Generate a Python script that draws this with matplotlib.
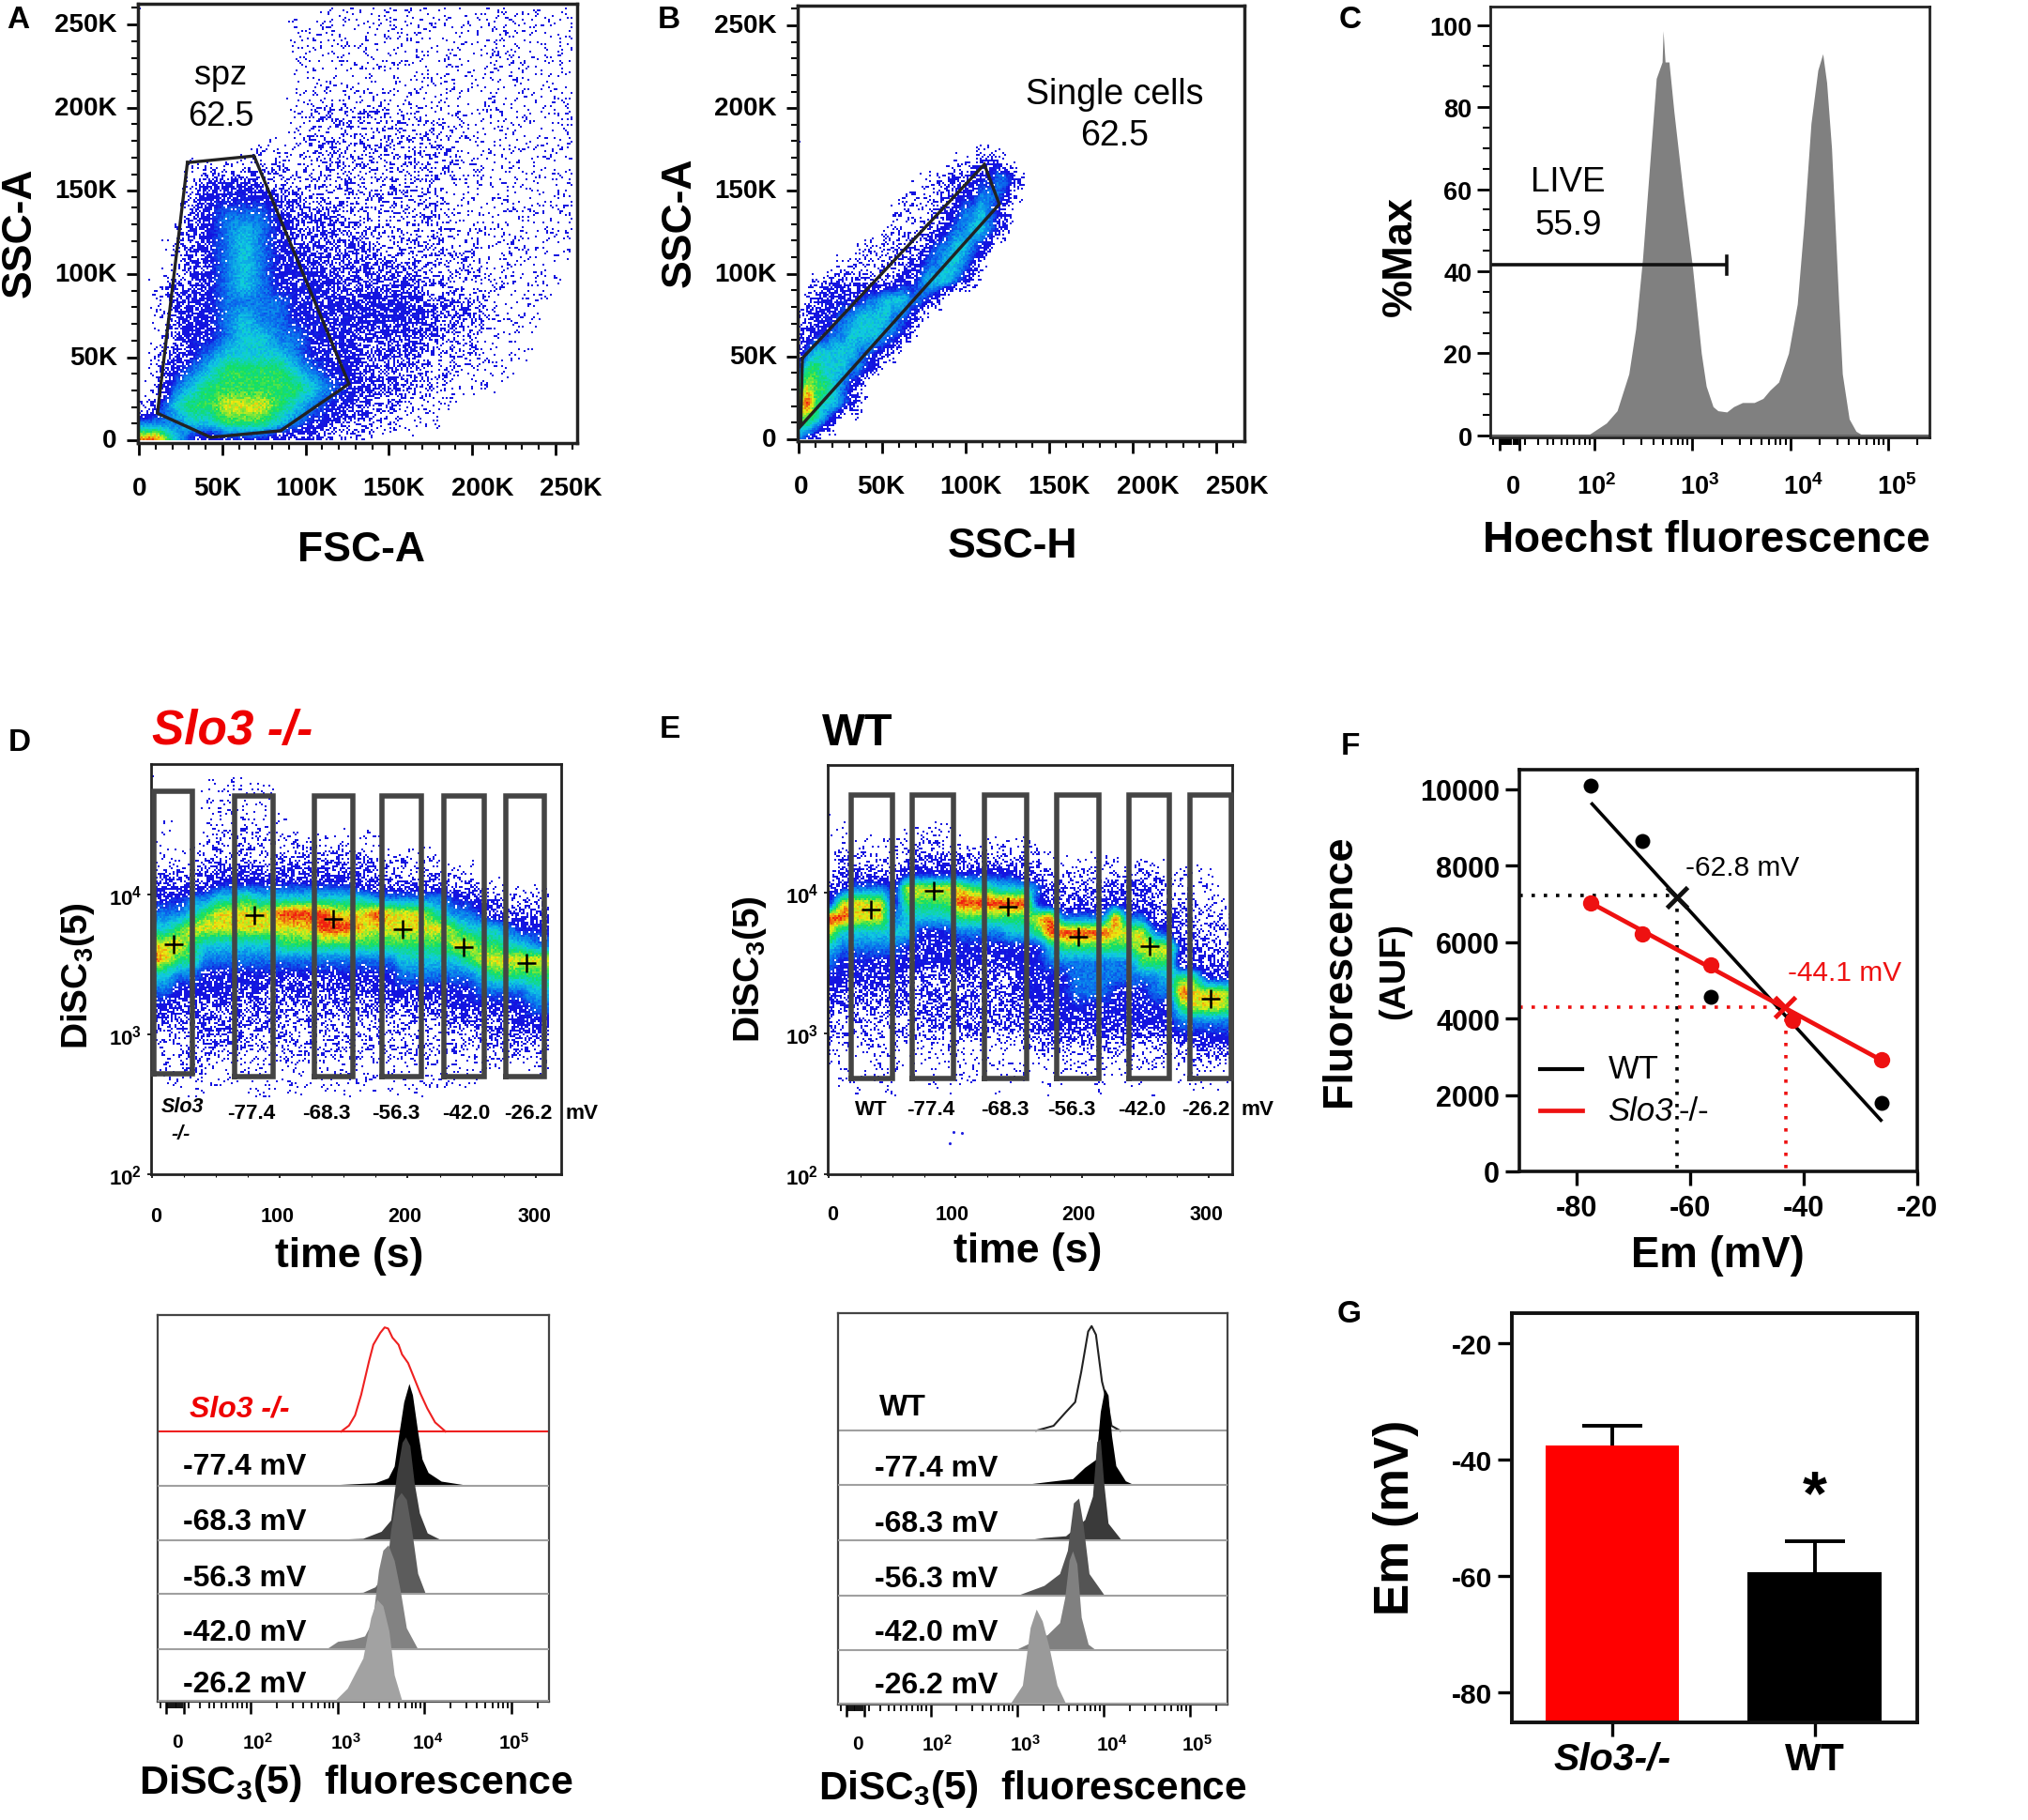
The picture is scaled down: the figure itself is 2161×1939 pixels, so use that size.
import numpy as np
import matplotlib
matplotlib.use("Agg")
import matplotlib.pyplot as plt
from matplotlib.colors import LinearSegmentedColormap
from matplotlib.transforms import Affine2D

plt.rcParams['font.family'] = ['Liberation Sans', 'DejaVu Sans']
plt.rcParams['mathtext.fontset'] = 'custom'
plt.rcParams['mathtext.bf'] = 'Liberation Sans:bold'
plt.rcParams['mathtext.rm'] = 'Liberation Sans'
plt.rcParams['mathtext.it'] = 'Liberation Sans:italic'

W, H = 2161, 1940

# Density grids, level 0 (no events) to 9 (hottest)
# Panel A: FSC-A 0-260K in 10K columns, SSC-A 260K down to 0 in 10K rows
density_a = [
    "00000000000111111111111111",
    "00000000011111111111111111",
    "00000000011111111111111111",
    "00000000011111111111111111",
    "00000000011111111111111111",
    "00000000011111111111111111",
    "00000000012222222111111111",
    "00000000012222222211111111",
    "00000001112222222221111111",
    "00011112222222222221111111",
    "00023443222222222211111111",
    "00034444332222222211111111",
    "00034555433322222221111111",
    "00134565433332222221111111",
    "00234565443333222222111111",
    "00234565444333333222111110",
    "01334565444433333222111110",
    "01344555544444444333211100",
    "01344565544444444333211100",
    "01344566554443433322111000",
    "02345666654443333222111000",
    "02456777765443332221110000",
    "02567777776544332211100000",
    "14677888765443221110000000",
    "55566777654433221100000000",
    "99643444333221000000000000",
]

# Panel B: SSC-H 0-135K in 5K columns, SSC-A 180K down to 0 in 10K rows
density_b = [
    "000000000000000000000000000",
    "000000000000000000112334100",
    "000000000000001122333445543",
    "000000000000122223344555421",
    "000000000001222233455654310",
    "000000000012222334556654300",
    "000000012222233455665430000",
    "000012222222334556654300000",
    "012333333333445666543000000",
    "033444445566655430000000000",
    "134445566665543000000000000",
    "334455666655430000000000000",
    "356666655443000000000000000",
    "577666554300000000000000000",
    "787765430000000000000000000",
    "897665430000000000000000000",
    "776530000000000000000000000",
    "543000000000000000000000000",
]

# Panel D: time 0-310 s in 10 s columns, log10 signal 4.8 down to 2.6 in 0.1 rows
density_d = [
    "0000011100000000000000000000000",
    "0000111111000000000000000000000",
    "0000111111000000000000000000000",
    "0100111111100000000000000000000",
    "1100122222111111110000000000000",
    "1111222222222222211111000000000",
    "2222333333333333332222211000000",
    "3333344444444444333333322110000",
    "4445566766666666655555544332222",
    "5556788888999988898887655433333",
    "6678888888888999888888876665444",
    "8887666666777777777777788776655",
    "9877555555555555555666667888888",
    "6655444444444444444555555677777",
    "5544444443333333344444444555566",
    "4433333333333333333333344444455",
    "3333333333222222222222233333444",
    "2223333322222222222222222233333",
    "1112222222222222222222222222222",
    "1112211111111111111111111111111",
    "0111111111111111111111111100000",
    "0001110011110111101110000000000",
]

# Panel E: time 0-320 s in 10 s columns, log10 signal 4.5 down to 2.6 in 0.1 rows
density_e = [
    "00000000000000000000000000000000",
    "01000011110000000000000000000000",
    "11111112211111111000000000000000",
    "12222133333222222111111111000000",
    "23333344444444433222222222111100",
    "34555488888776665333333333221111",
    "48888477779999994333334333222111",
    "99888566667777778955559553332222",
    "86666664445555667999998885433222",
    "65555544444444444677777788843322",
    "54444444444444444555555577733333",
    "44444433333333344445555555677444",
    "43333333333333344445554445598887",
    "33333333333333334444444444478887",
    "22222223333333333444444444455555",
    "22222222222222223333333333344444",
    "11111111111111112222222222222333",
    "11111111111111111111111111111111",
    "01101101101100110110110110011011",
    "00100100010001000100010001000100",
]

# Stray events below the main cloud of panel E
e_stray_time = [98, 105, 95]
e_stray_log = [2.30, 2.29, 2.22]

# Gates
gate_a_fsc = [29, 69, 126, 85, 43, 11, 29]
gate_a_ssc = [167, 171, 34, 5.8, 1.8, 16.3, 167]
gate_b_ssch = [2, 111, 120, 1, 2]
gate_b_ssca = [49, 166, 142, 8, 49]

k_ticks = [0, 50, 100, 150, 200, 250]
k_minor = [10, 20, 30, 40, 60, 70, 80, 90, 110, 120, 130, 140, 160, 170, 180, 190, 210, 220, 230, 240, 260]
k_labels = ['0', '50K', '100K', '150K', '200K', '250K']
a_label_x = [0, 47, 100.5, 153, 206, 259]
b_label_x = [1.3, 49, 103, 156, 209, 262.5]

# Panel C histogram, x is log10 fluorescence on the display axis
hoechst_log = [1.93, 2.12, 2.23, 2.35, 2.42, 2.49, 2.56, 2.63, 2.69, 2.70, 2.72, 2.76, 2.81, 2.91,
               3.00, 3.09, 3.14, 3.21, 3.26, 3.35, 3.42, 3.51, 3.63, 3.72, 3.79, 3.88, 3.98, 4.07,
               4.14, 4.21, 4.28, 4.33, 4.37, 4.42, 4.49, 4.53, 4.60, 4.67, 4.74]
hoechst_pct = [0, 3, 6, 15, 26, 43, 65, 87, 91, 98.6, 91, 91, 79, 58,
               41, 20, 12, 7, 6, 5.7, 7, 8, 8, 9, 11, 13, 20, 32,
               52, 76, 89, 93, 86, 70, 34, 15, 4, 1, 0]
pct_ticks = [0, 20, 40, 60, 80, 100]
pct_minor = [5, 10, 15, 25, 30, 35, 45, 50, 55, 65, 70, 75, 85, 90, 95]
live_gate_end = 3.35
live_gate_pct = 41.5

# Biexponential axis ticks, shared by the three fluorescence histograms
decades = [2, 3, 4, 5]
decade_labels = [r'$\mathbf{10^{2}}$', r'$\mathbf{10^{3}}$', r'$\mathbf{10^{4}}$', r'$\mathbf{10^{5}}$']
biex_minor = [0.96, 1.03, 1.05, 1.07, 1.09, 1.11, 1.13, 1.15, 1.17, 1.19, 1.21, 1.23, 1.29,
              1.42, 1.52, 1.58, 1.66, 1.72, 1.79, 1.85, 1.9, 1.95,
              2.3, 2.48, 2.6, 2.7, 2.78, 2.85, 2.9, 2.95,
              3.3, 3.48, 3.6, 3.7, 3.78, 3.85, 3.9, 3.95,
              4.3, 4.48, 4.6, 4.7, 4.78, 4.85, 4.9, 4.95, 5.3]
biex_major_left = [1.03, 1.23]
c_label_pos = [1.17, 2.02, 3.07, 4.13, 5.09]
d_label_pos = [1.16, 2.08, 3.09, 4.04, 5.03]
e_label_pos = [1.16, 2.07, 3.09, 4.09, 5.08]

# Panels D and E gates and medians
d_gate_start = [1.9, 64.4, 127, 180, 228.6, 277]
d_gate_end = [31.7, 94.6, 157, 211, 260, 307]
d_gate_top = [4.745, 4.707, 4.707, 4.707, 4.707, 4.707]
d_gate_bottom = [2.718, 2.70, 2.70, 2.70, 2.70, 2.70]
d_median_time = [16.8, 80.3, 142, 196, 244, 293]
d_median_log = [3.644, 3.855, 3.827, 3.753, 3.625, 3.512]

e_gate_start = [17.2, 66, 123, 180, 236.6, 285.5]
e_gate_end = [50.2, 98.7, 156, 213.6, 269, 318]
e_gate_top = [4.687] * 6
e_gate_bottom = [2.682] * 6
e_median_time = [33, 82.5, 141, 197, 253, 301.6]
e_median_log = [3.875, 4.01, 3.90, 3.686, 3.618, 3.247]

time_ticks = [0, 100, 200, 300]
time_minor = [25, 50, 75, 125, 150, 175, 225, 250, 275]
d_time_label_x = [3.5, 98, 198, 299]
e_time_label_x = [3, 97, 197, 298]
log_ticks = [2, 3, 4]
log_labels = [r'$\mathbf{10^{2}}$', r'$\mathbf{10^{3}}$', r'$\mathbf{10^{4}}$']
voltages = ['-77.4', '-68.3', '-56.3', '-42.0', '-26.2']
voltage_labels = [v + ' mV' for v in voltages]

# Stacked histograms under D (Slo3 -/-), top to bottom
d_hist_base = [5.0, 4.0, 2.99, 1.99, 0.97, 0]
d_hist_colors = ['none', '#000000', '#3d3d3d', '#5c5c5c', '#828282', '#a2a2a2']
d_x0 = [3.04, 3.13, 3.20, 3.27, 3.36, 3.41, 3.49, 3.54, 3.58, 3.63, 3.70, 3.74, 3.81, 3.88, 3.95, 4.03, 4.12, 4.24]
d_y0 = [0, .11, .30, .68, 1.3, 1.61, 1.83, 1.93, 1.91, 1.74, 1.61, 1.43, 1.27, .99, .71, .43, .17, 0]
d_x1 = [2.75, 3.04, 3.43, 3.58, 3.65, 3.70, 3.76, 3.82, 3.86, 3.92, 3.97, 4.04, 4.19, 4.51]
d_y1 = [0, .02, .05, .14, .36, .92, 1.55, 1.89, 1.68, 1.0, .49, .24, .08, 0]
d_x2 = [2.82, 3.29, 3.50, 3.61, 3.68, 3.74, 3.78, 3.83, 3.88, 3.94, 4.03, 4.19]
d_y2 = [0, .03, .16, .37, 1.25, 1.81, 1.91, 1.75, 1.06, .5, .13, 0]
d_x3 = [2.82, 3.29, 3.43, 3.56, 3.61, 3.67, 3.73, 3.79, 3.85, 3.92, 4.01]
d_y3 = [0, .03, .13, .44, 1.19, 1.75, 1.88, 1.75, 1.19, .38, 0]
d_x4 = [2.87, 3.0, 3.18, 3.31, 3.40, 3.47, 3.52, 3.58, 3.65, 3.72, 3.79, 3.92]
d_y4 = [0, .14, .18, .24, .52, 1.46, 1.83, 1.93, 1.64, 1.08, .39, 0]
d_x5 = [2.96, 3.11, 3.29, 3.38, 3.45, 3.52, 3.59, 3.65, 3.74]
d_y5 = [0, .24, .8, 1.55, 1.89, 1.77, 1.3, .49, 0]

# Stacked histograms under E (WT), top to bottom
e_hist_base = [5.06, 4.05, 3.02, 2.0, 0.99, 0]
e_hist_colors = ['none', '#000000', '#3a3a3a', '#545454', '#808080', '#9a9a9a']
e_x0 = [3.22, 3.42, 3.56, 3.67, 3.74, 3.82, 3.86, 3.91, 3.98, 4.05, 4.09, 4.19]
e_y0 = [0, .09, .34, .53, 1.09, 1.84, 1.94, 1.78, .91, .47, .09, 0]
e_x1 = [2.85, 3.17, 3.64, 3.78, 3.91, 3.96, 4.01, 4.05, 4.09, 4.14, 4.25, 4.36]
e_y1 = [0, .03, .12, .33, .48, 1.36, 1.79, 1.67, .92, .36, .08, 0]
e_x2 = [3.06, 3.31, 3.56, 3.78, 3.87, 3.92, 3.96, 4.0, 4.05, 4.21]
e_y2 = [0, .06, .09, .39, .825, 1.84, 1.89, 1.075, .325, 0]
e_x3 = [2.99, 3.31, 3.49, 3.58, 3.65, 3.71, 3.76, 3.83, 4.01]
e_y3 = [0, .19, .41, .84, 1.72, 1.81, 1.34, .41, 0]
e_x4 = [2.97, 3.35, 3.49, 3.55, 3.6, 3.64, 3.69, 3.74, 3.82, 3.91]
e_y4 = [0, .29, .51, .98, 1.67, 1.84, 1.6, .61, .11, 0]
e_x5 = [2.92, 3.06, 3.15, 3.22, 3.29, 3.37, 3.46, 3.56]
e_y5 = [0, .34, 1.41, 1.75, 1.53, 1.03, .34, 0]

# Panel F
em_mv = [-77.4, -68.3, -56.3, -42.0, -26.2]
wt_fluor = [10100, 8640, 4570, 4000, 1780]
slo3_fluor = [7020, 6200, 5400, 3960, 2920]
wt_fit_x = [-77.2, -26.4]
wt_fit_y = [9610, 1340]
slo3_fit_x = [-77.4, -26.2]
slo3_fit_y = [7020, 2900]
wt_cross = (-62.3, 7170)
slo3_cross = (-43.2, 4290)

# Panel G
genotypes = ['Slo3-/-', 'WT']
em_mean = [-37.5, -59.3]
em_err = [3.3, 5.3]

hot_cmap = LinearSegmentedColormap.from_list('flow', [
    '#1414e0', '#0a78ee', '#10cce0', '#14e060', '#ecec10', '#f02010'])

fig = plt.figure(figsize=(W / 100, H / 100), dpi=100)


def make_axes(left, top, right, bottom, lw=2.0, color='#222222'):
    ax = fig.add_axes([left / W, 1 - bottom / H, (right - left) / W, (bottom - top) / H])
    for s in ax.spines.values():
        s.set_linewidth(lw)
        s.set_color(color)
    ax.box_px = (left, top, right, bottom)
    return ax


def put(x, y, s, size, weight='bold', **kw):
    kw.setdefault('ha', 'center')
    kw.setdefault('va', 'center')
    return fig.text(x / W, 1 - y / H, s, fontsize=size, fontweight=weight, **kw)


def x_labels(ax, positions, labels, y, size):
    top, bottom = ax.box_px[1], ax.box_px[3]
    frac = (bottom - y) / (bottom - top)
    for p, s in zip(positions, labels):
        ax.text(p, frac, s, transform=ax.get_xaxis_transform(), fontsize=size, fontweight='bold',
                ha='center', va='center', clip_on=False)


def nudge_y_labels(ax, dy):
    for lab in ax.get_yticklabels():
        lab.set_transform(lab.get_transform() + Affine2D().translate(0, dy))


def soften(a, n, axis):
    # box blur along one axis, edges held
    kernel = np.ones(n) / n
    pad = [(0, 0), (0, 0)]
    pad[axis] = (n, n)
    b = np.pad(a, pad, mode='edge')
    b = np.apply_along_axis(lambda v: np.convolve(v, kernel, mode='same'), axis, b)
    return b[n:-n, :] if axis == 0 else b[:, n:-n]


def screen(jj, ii):
    # fixed halftone screen, it only decides how a level of the grid is printed
    return (np.sin(12.9898 * jj + 78.233 * ii) * 43758.5453) % 1


def density(ax, rows, extent, dot=2):
    # halftone of the read grid: dots in the sparse levels, grainy colour in the dense ones
    n = max(len(r) for r in rows)
    grid = np.array([[int(c) for c in r.ljust(n, '0')] for r in rows], dtype=float)
    x0, x1, y0, y1 = extent
    left, top, right, bottom = ax.box_px
    xl = ax.get_xlim()
    yl = ax.get_ylim()
    nx = int((x1 - x0) / (xl[1] - xl[0]) * (right - left) / dot)
    ny = int((y1 - y0) / (yl[1] - yl[0]) * (bottom - top) / dot)
    u = np.linspace(0, n - 1, nx)
    v = np.linspace(0, len(rows) - 1, ny)
    fine = np.array([np.interp(u, np.arange(n), r) for r in grid])
    fine = np.array([np.interp(v, np.arange(len(rows)), c) for c in fine.T]).T
    fine = soften(soften(fine, max(3, nx // n // 2), 1), max(3, ny // len(rows) // 2), 0)
    jj, ii = np.meshgrid(np.arange(nx), np.arange(ny))
    thresh = screen(jj, ii)
    cover = np.interp(fine, [0, .3, 1, 2, 3, 4, 5], [0, 0, .10, .25, .5, .8, 1])
    rgb = hot_cmap(np.clip((fine + (thresh - .5) * .7 - 4) / 5, 0, 1))[..., :3]
    rgb[thresh > cover] = 1
    ax.imshow(rgb, extent=extent, origin='upper', aspect='auto', interpolation='nearest', zorder=1)


def scatter_panel(ax, xticks, xminor, yticks, yminor):
    ax.set_xticks(xticks)
    ax.set_xticks(xminor, minor=True)
    ax.set_yticks(yticks)
    ax.set_yticks(yminor, minor=True)
    ax.set_xticklabels([])


# A
ax = make_axes(147, 5, 615, 473, lw=2.5)
ax.set_xlim(-0.7, 263)
ax.set_ylim(-1.6, 262.5)
density(ax, density_a, (0, 260, 0, 260))
ax.plot(gate_a_fsc, gate_a_ssc, color='#222222', lw=2.4, zorder=3, solid_joinstyle='miter')
scatter_panel(ax, k_ticks, k_minor, k_ticks, k_minor)
ax.set_yticklabels(k_labels, fontsize=20, fontweight='bold')
ax.tick_params(which='major', length=9, width=2, pad=7)
ax.tick_params(which='minor', length=5, width=1.5)
nudge_y_labels(ax, 3)
x_labels(ax, a_label_x, k_labels, 521, 20)
put(21, 248, 'SSC-A', 32, rotation=90)
put(385, 586, 'FSC-A', 32)
put(19, 22, 'A', 24)
put(235, 81, 'spz', 26, weight='normal')
put(235, 124, '62.5', 26, weight='normal')

# B
ax = make_axes(850, 7, 1326, 471, lw=2.5)
ax.set_xlim(-0.8, 266.8)
ax.set_ylim(-1.1, 261.9)
density(ax, density_b, (0, 135, 0, 180))
ax.plot(gate_b_ssch, gate_b_ssca, color='#222222', lw=2.4, zorder=3, solid_joinstyle='miter')
scatter_panel(ax, k_ticks, k_minor, k_ticks, k_minor)
ax.set_yticklabels(k_labels, fontsize=20, fontweight='bold')
ax.tick_params(which='major', length=9, width=2, pad=7)
ax.tick_params(which='minor', length=5, width=1.5)
nudge_y_labels(ax, 3)
x_labels(ax, b_label_x, k_labels, 519, 20)
put(724, 237, 'SSC-A', 32, rotation=90)
put(1079, 582, 'SSC-H', 32)
put(713, 22, 'B', 24)
put(1188, 101, 'Single cells', 27, weight='normal')
put(1188, 145, '62.5', 27, weight='normal')

# C
ax = make_axes(1588, 8, 2056, 467, lw=2.0)
ax.fill_between(hoechst_log, 0, hoechst_pct, color='#808080', lw=0)
ax.plot([0.9, 5.5], [0, 0], color='#666666', lw=1.5)
ax.plot([0.9, live_gate_end], [live_gate_pct, live_gate_pct], color='#111111', lw=2.6, solid_capstyle='butt')
ax.plot([live_gate_end, live_gate_end], [live_gate_pct - 2.2, live_gate_pct + 2.2], color='#111111', lw=2.6)
ax.set_xlim(0.935, 5.42)
ax.set_ylim(-0.5, 104.5)
ax.set_xticks(biex_major_left + decades)
ax.set_xticks(biex_minor, minor=True)
ax.set_xticklabels([])
ax.set_yticks(pct_ticks)
ax.set_yticks(pct_minor, minor=True)
ax.set_yticklabels(pct_ticks, fontsize=19.5, fontweight='bold')
ax.tick_params(which='major', length=10, width=2, pad=4)
ax.tick_params(which='minor', length=6, width=1.5)
x_labels(ax, c_label_pos, ['0'] + decade_labels, 519, 19.5)
put(1492, 273, '%Max', 32.5, rotation=90)
put(1818, 576, 'Hoechst fluorescence', 33)
put(1439, 22, 'C', 24)
put(1671, 195, 'LIVE', 26.5, weight='normal')
put(1671, 240, '55.9', 26.5, weight='normal')


def time_panel(box, rows, extent, xlim, ylim, gs, ge, gt, gb, mt, ml, label_x, label_y):
    ax = make_axes(*box, lw=2.0)
    ax.set_xlim(*xlim)
    ax.set_ylim(*ylim)
    density(ax, rows, extent)
    for a, b, t, d in zip(gs, ge, gt, gb):
        ax.plot([a, b, b, a, a], [d, d, t, t, d], color='#444444', lw=4.0, zorder=3,
                solid_joinstyle='miter', clip_on=False)
    ax.plot(mt, ml, '+', color='black', ms=15, mew=1.8, zorder=4)
    ax.set_xticks(time_ticks)
    ax.set_xticks(time_minor, minor=True)
    ax.set_xticklabels([])
    ax.set_yticks(log_ticks)
    ax.set_yticklabels(log_labels, fontsize=16)
    ax.tick_params(which='major', length=3, width=1.2, pad=4)
    ax.tick_params(which='minor', length=2, width=0.8)
    x_labels(ax, label_x, time_ticks, label_y, 15.5)
    return ax


# D
ax = time_panel((161, 815, 598, 1252), density_d, (0, 310, 2.55, 4.85), (-0.6, 320), (2, 4.937),
                d_gate_start, d_gate_end, d_gate_top, d_gate_bottom, d_median_time, d_median_log,
                d_time_label_x, 1296)
put(21, 791, 'D', 24)
put(248, 780, 'Slo3 -/-', 37, color='#ee0000', style='italic')
put(83, 1040, r'$\mathbf{DiSC_{3}(5)}$', 28, rotation=90)
put(372, 1339, 'time (s)', 32)
put(194, 1180, 'Slo3', 15.5, style='italic')
put(193, 1208, '-/-', 15.5, style='italic')
for x, s in zip([268, 348, 422, 497, 563], voltages):
    put(x, 1187, s, 16.2)
put(620, 1187, 'mV', 16.2)

# E
ax = time_panel((882, 816, 1313, 1252), density_e, (0, 320, 2.55, 4.55), (-1, 318.5), (2, 4.903),
                e_gate_start, e_gate_end, e_gate_top, e_gate_bottom, e_median_time, e_median_log,
                e_time_label_x, 1294)
ax.scatter(e_stray_time, e_stray_log, s=5, color='#2020e0', lw=0, zorder=2)
put(714, 778, 'E', 24)
put(914, 781, 'WT', 35)
put(799, 1033, r'$\mathbf{DiSC_{3}(5)}$', 28, rotation=90)
put(1095, 1333, 'time (s)', 32)
put(928, 1183, 'WT', 16)
for x, s in zip([992, 1071, 1142, 1217, 1285], voltages):
    put(x, 1183, s, 16.2)
put(1340, 1183, 'mV', 16.2)


def hist_panel(box, bases, xs, ys, colors, ylim, label_pos, label_y, first_color):
    ax = make_axes(*box, lw=1.6, color='#444444')
    for i, (b, x, y, c) in enumerate(zip(bases, xs, ys, colors)):
        y = np.array(y) + b
        if c != 'none':
            ax.fill_between(x, b, y, color=c, lw=0, zorder=2 + i)
        else:
            ax.plot(x, y, color=first_color, lw=1.5, zorder=2 + i)
        ax.axhline(b, color=first_color if c == 'none' and first_color != '#222222' else '#a0a0a0',
                   lw=1.5, zorder=2 + i)
    ax.set_xlim(0.93, 5.43)
    ax.set_ylim(*ylim)
    ax.set_yticks([])
    ax.set_xticks(biex_major_left + decades)
    ax.set_xticks(biex_minor, minor=True)
    ax.set_xticklabels([])
    ax.tick_params(which='major', length=9, width=1.8)
    ax.tick_params(which='minor', length=5, width=1.3)
    x_labels(ax, label_pos, ['0'] + decade_labels, label_y, 15)
    return ax


# Histograms below D
hist_panel((168, 1402, 585, 1814), d_hist_base, [d_x0, d_x1, d_x2, d_x3, d_x4, d_x5],
           [d_y0, d_y1, d_y2, d_y3, d_y4, d_y5], d_hist_colors, (-0.01, 7.16), d_label_pos, 1857, '#ee2020')
put(255, 1502, 'Slo3 -/-', 23, color='#ee0000', style='italic')
for y, s in zip([1563, 1622, 1682, 1740, 1795], voltage_labels):
    put(261, y, s, 23)
put(380, 1900, r'$\mathbf{DiSC_{3}(5)\ \ fluorescence}$', 31)

# Histograms below E
hist_panel((893, 1400, 1308, 1817), e_hist_base, [e_x0, e_x1, e_x2, e_x3, e_x4, e_x5],
           [e_y0, e_y1, e_y2, e_y3, e_y4, e_y5], e_hist_colors, (-0.02, 7.24), e_label_pos, 1859, '#222222')
put(962, 1500, 'WT', 23)
for y, s in zip([1565, 1624, 1683, 1740, 1796], voltage_labels):
    put(932, y, s, 23, ha='left')
put(1100, 1906, r'$\mathbf{DiSC_{3}(5)\ \ fluorescence}$', 30.5)

# F
ax = make_axes(1619, 821, 2043, 1249, lw=2.6, color='#111111')
ax.plot([-90, wt_cross[0]], [7210, 7210], color='black', lw=2.6, ls=(0, (1, 2.6)), zorder=2)
ax.plot([wt_cross[0], wt_cross[0]], [7200, 0], color='black', lw=2.6, ls=(0, (1, 2.6)), zorder=2)
ax.plot([-90, slo3_cross[0]], [slo3_cross[1], slo3_cross[1]], color='#ee1111', lw=2.6, ls=(0, (1, 2.6)), zorder=2)
ax.plot([-43.05, -43.05], [4000, 0], color='#ee1111', lw=2.6, ls=(0, (1, 2.6)), zorder=2)
ax.plot(em_mv, wt_fluor, 'o', color='black', ms=11.5, zorder=4, mew=0)
ax.plot(wt_fit_x, wt_fit_y, color='black', lw=2.6, zorder=3)
ax.plot(slo3_fit_x, slo3_fit_y, color='#ee1111', lw=3.4, zorder=4)
ax.plot(em_mv, slo3_fluor, 'o', color='#ee1111', ms=12.5, zorder=5, mew=0)
ax.plot(*wt_cross, 'x', color='#111111', ms=16, mew=3.5, zorder=6)
ax.plot(*slo3_cross, 'x', color='#ee1111', ms=16, mew=3.5, zorder=6)
ax.plot([-86.4, -79], [2683, 2683], color='black', lw=3)
ax.plot([-86.4, -79], [1590, 1590], color='#ee1111', lw=3.4)
ax.text(-74.4, 2683, 'WT', fontsize=25, va='center')
ax.text(-74.4, 1590, 'Slo3', fontsize=25, va='center', style='italic')
ax.text(-62, 1590, '-/-', fontsize=25, va='center')
ax.set_xlim(-90, -20)
ax.set_ylim(0, 10507)
ax.set_xticks([-80, -60, -40, -20])
ax.set_yticks([0, 2000, 4000, 6000, 8000, 10000])
ax.set_xticklabels([-80, -60, -40, -20], fontsize=22, fontweight='bold')
ax.set_yticklabels([0, 2000, 4000, 6000, 8000, 10000], fontsize=22, fontweight='bold')
ax.tick_params(length=11, width=2.4, pad=4)
ax.tick_params(axis='x', pad=6)
put(1439, 796, 'F', 24)
put(1427, 1034, 'Fluorescence', 32.4, rotation=90)
put(1486, 1034, '(AUF)', 27.3, rotation=90)
put(1830, 1338, 'Em (mV)', 32.8)
put(1857, 925, '-62.8 mV', 21.5, weight='normal')
put(1966, 1037, '-44.1 mV', 21.5, weight='normal', color='#ee1111')

# G
ax = make_axes(1611, 1400, 2043, 1836, lw=2.8, color='#111111')
g_floor = -85.1
g_x = np.arange(len(genotypes))
ax.bar(g_x, np.array(em_mean) - g_floor, bottom=g_floor, width=0.662, color=['#ff0000', '#000000'], zorder=2)
_, g_caps, _ = ax.errorbar(g_x, em_mean, yerr=[[0, 0], em_err], fmt='none', ecolor='black', elinewidth=2.8,
                           capsize=23, capthick=2.8, zorder=1)
g_caps[0].set_visible(False)
ax.text(1, -46.5, '*', fontsize=48, fontweight='bold', ha='center', va='center')
ax.set_xlim(-0.497, 1.508)
ax.set_ylim(g_floor, -14.8)
ax.set_xticks(g_x)
ax.set_xticklabels([])
ax.set_yticks([-20, -40, -60, -80])
ax.set_yticklabels([-20, -40, -60, -80], fontsize=21.5, fontweight='bold')
ax.tick_params(length=11, width=2.4, pad=4)
ax.text(0, (1836 - 1875) / 436, genotypes[0], transform=ax.get_xaxis_transform(), fontsize=29.5,
        fontweight='bold', style='italic', ha='center', va='center')
ax.text(1, (1836 - 1875) / 436, genotypes[1], transform=ax.get_xaxis_transform(), fontsize=29.5,
        fontweight='bold', ha='center', va='center')
put(1438, 1401, 'G', 24)
put(1488, 1617, 'Em (mV)', 37, rotation=90)

fig.savefig('out.png', dpi=100)
